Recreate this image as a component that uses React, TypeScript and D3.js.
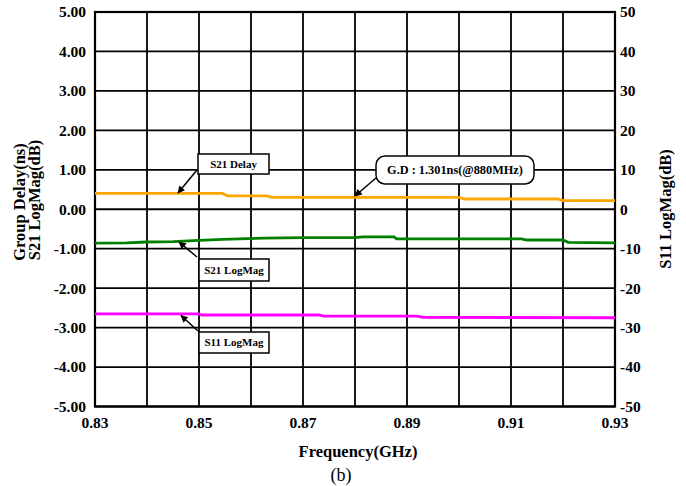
import React from "react";
import * as d3 from "d3";

const xTicks = [0.83, 0.85, 0.87, 0.89, 0.91, 0.93];
const leftTicks = [5, 4, 3, 2, 1, 0, -1, -2, -3, -4, -5];
const rightTicks = [50, 40, 30, 20, 10, 0, -10, -20, -30, -40, -50];
const vGrid = [0.84, 0.85, 0.86, 0.87, 0.88, 0.89, 0.9, 0.91, 0.92];

// S21 Delay (ns), left axis
const delayFreq = [0.83, 0.84, 0.8545, 0.8555, 0.863, 0.864, 0.88, 0.9, 0.901, 0.919, 0.92, 0.93];
const delayVals = [0.4, 0.4, 0.4, 0.34, 0.34, 0.3, 0.3, 0.3, 0.26, 0.26, 0.22, 0.22];

// S21 LogMag, left axis units
const s21Freq = [0.83, 0.836, 0.84, 0.845, 0.85, 0.8545, 0.8625, 0.87, 0.88, 0.8815, 0.8875, 0.888, 0.912, 0.913, 0.92, 0.921, 0.93];
const s21Vals = [-0.86, -0.85, -0.83, -0.82, -0.79, -0.765, -0.73, -0.72, -0.72, -0.7, -0.7, -0.75, -0.75, -0.78, -0.78, -0.84, -0.85];

// S11 LogMag (dB), right axis
const s11Freq = [0.83, 0.85, 0.8505, 0.873, 0.874, 0.892, 0.893, 0.93];
const s11Vals = [-26.5, -26.5, -26.8, -26.8, -27.1, -27.1, -27.4, -27.5];

const FONT = "'Liberation Serif', 'Times New Roman', serif";

export default function App() {
  const L = 95, R = 615, T = 12, B = 406.5;
  const x = d3.scaleLinear().domain([0.83, 0.93]).range([L, R]);
  const yL = d3.scaleLinear().domain([-5, 5]).range([B, T]);
  const yR = d3.scaleLinear().domain([-50, 50]).range([B, T]);

  const lineL = d3.line<[number, number]>().x((d) => x(d[0])).y((d) => yL(d[1]));
  const lineR = d3.line<[number, number]>().x((d) => x(d[0])).y((d) => yR(d[1]));

  const delayPath = lineL(delayFreq.map((f, i) => [f, delayVals[i]]) as [number, number][]);
  const s21Path = lineL(s21Freq.map((f, i) => [f, s21Vals[i]]) as [number, number][]);
  const s11Path = lineR(s11Freq.map((f, i) => [f, s11Vals[i]]) as [number, number][]);

  const boxes = [
    { label: "S21 Delay", x: 198, y: 154, w: 71, h: 20, rx: 0, fs: 11, ax1: 197, ay1: 170, ax2: 178, ay2: 193 },
    { label: "S21 LogMag", x: 199, y: 259, w: 70, h: 22, rx: 0, fs: 11, ax1: 197, ay1: 257, ax2: 179, ay2: 242 },
    { label: "S11 LogMag", x: 199, y: 332, w: 70, h: 21, rx: 0, fs: 11, ax1: 198, ay1: 331, ax2: 181, ay2: 315.5 },
    { label: "G.D : 1.301ns(@880MHz)", x: 376, y: 156, w: 158, h: 28, rx: 9, fs: 12.3, ax1: 376, ay1: 178, ax2: 355, ay2: 196 },
  ];

  return (
    <svg width={686} height={486} style={{ position: "absolute", left: 0, top: 0, background: "#fff" }} fontFamily={FONT}>
      <defs>
        <marker id="arr" viewBox="0 0 10 10" refX="9" refY="5" markerWidth="5" markerHeight="5" orient="auto">
          <path d="M0,0 L10,5 L0,10 z" fill="#000" />
        </marker>
      </defs>
      {/* grid */}
      {leftTicks.map((t) => (
        <line key={"h" + t} x1={L} x2={R} y1={yL(t)} y2={yL(t)} stroke="#000" strokeWidth={1.8} />
      ))}
      {vGrid.map((t) => (
        <line key={"v" + t} x1={x(t)} x2={x(t)} y1={T} y2={B} stroke="#000" strokeWidth={1.8} />
      ))}
      <rect x={L} y={T} width={R - L} height={B - T} fill="none" stroke="#000" strokeWidth={2.2} />

      {/* data */}
      <path d={delayPath || ""} fill="none" stroke="#FFA500" strokeWidth={2.8} />
      <path d={s21Path || ""} fill="none" stroke="#008000" strokeWidth={2.8} />
      <path d={s11Path || ""} fill="none" stroke="#FF00FF" strokeWidth={2.8} />

      {/* tick labels */}
      {leftTicks.map((t) => (
        <text key={"l" + t} x={86} y={yL(t)} dy="0.35em" textAnchor="end" fontSize={15.5} fontWeight="bold">
          {t.toFixed(2)}
        </text>
      ))}
      {rightTicks.map((t) => (
        <text key={"r" + t} x={620} y={yR(t)} dy="0.35em" textAnchor="start" fontSize={15.5} fontWeight="bold">
          {t}
        </text>
      ))}
      {xTicks.map((t) => (
        <text key={"x" + t} x={x(t)} y={428} textAnchor="middle" fontSize={15.5} fontWeight="bold">
          {t.toFixed(2)}
        </text>
      ))}

      {/* axis titles */}
      <text transform="translate(25,202) rotate(-90)" textAnchor="middle" fontSize={16.5} fontWeight="bold">Group Delay(ns)</text>
      <text transform="translate(40,200) rotate(-90)" textAnchor="middle" fontSize={16.5} fontWeight="bold">S21 LogMag(dB)</text>
      <text transform="translate(671,209) rotate(-90)" textAnchor="middle" fontSize={16.5} fontWeight="bold">S11 LogMag(dB)</text>
      <text x={358} y={457} textAnchor="middle" fontSize={16.5} fontWeight="bold">Frequency(GHz)</text>
      <text x={341} y={481} textAnchor="middle" fontSize={18}>(b)</text>

      {/* annotations */}
      {boxes.map((b) => (
        <g key={b.label}>
          <line x1={b.ax1} y1={b.ay1} x2={b.ax2} y2={b.ay2} stroke="#000" strokeWidth={1.5} markerEnd="url(#arr)" />
          <rect x={b.x} y={b.y} width={b.w} height={b.h} rx={b.rx} fill="#fff" stroke="#000" strokeWidth={1.5} />
          <text x={b.x + b.w / 2} y={b.y + b.h / 2} dy="0.35em" textAnchor="middle" fontSize={b.fs} fontWeight="bold">
            {b.label}
          </text>
        </g>
      ))}
    </svg>
  );
}
